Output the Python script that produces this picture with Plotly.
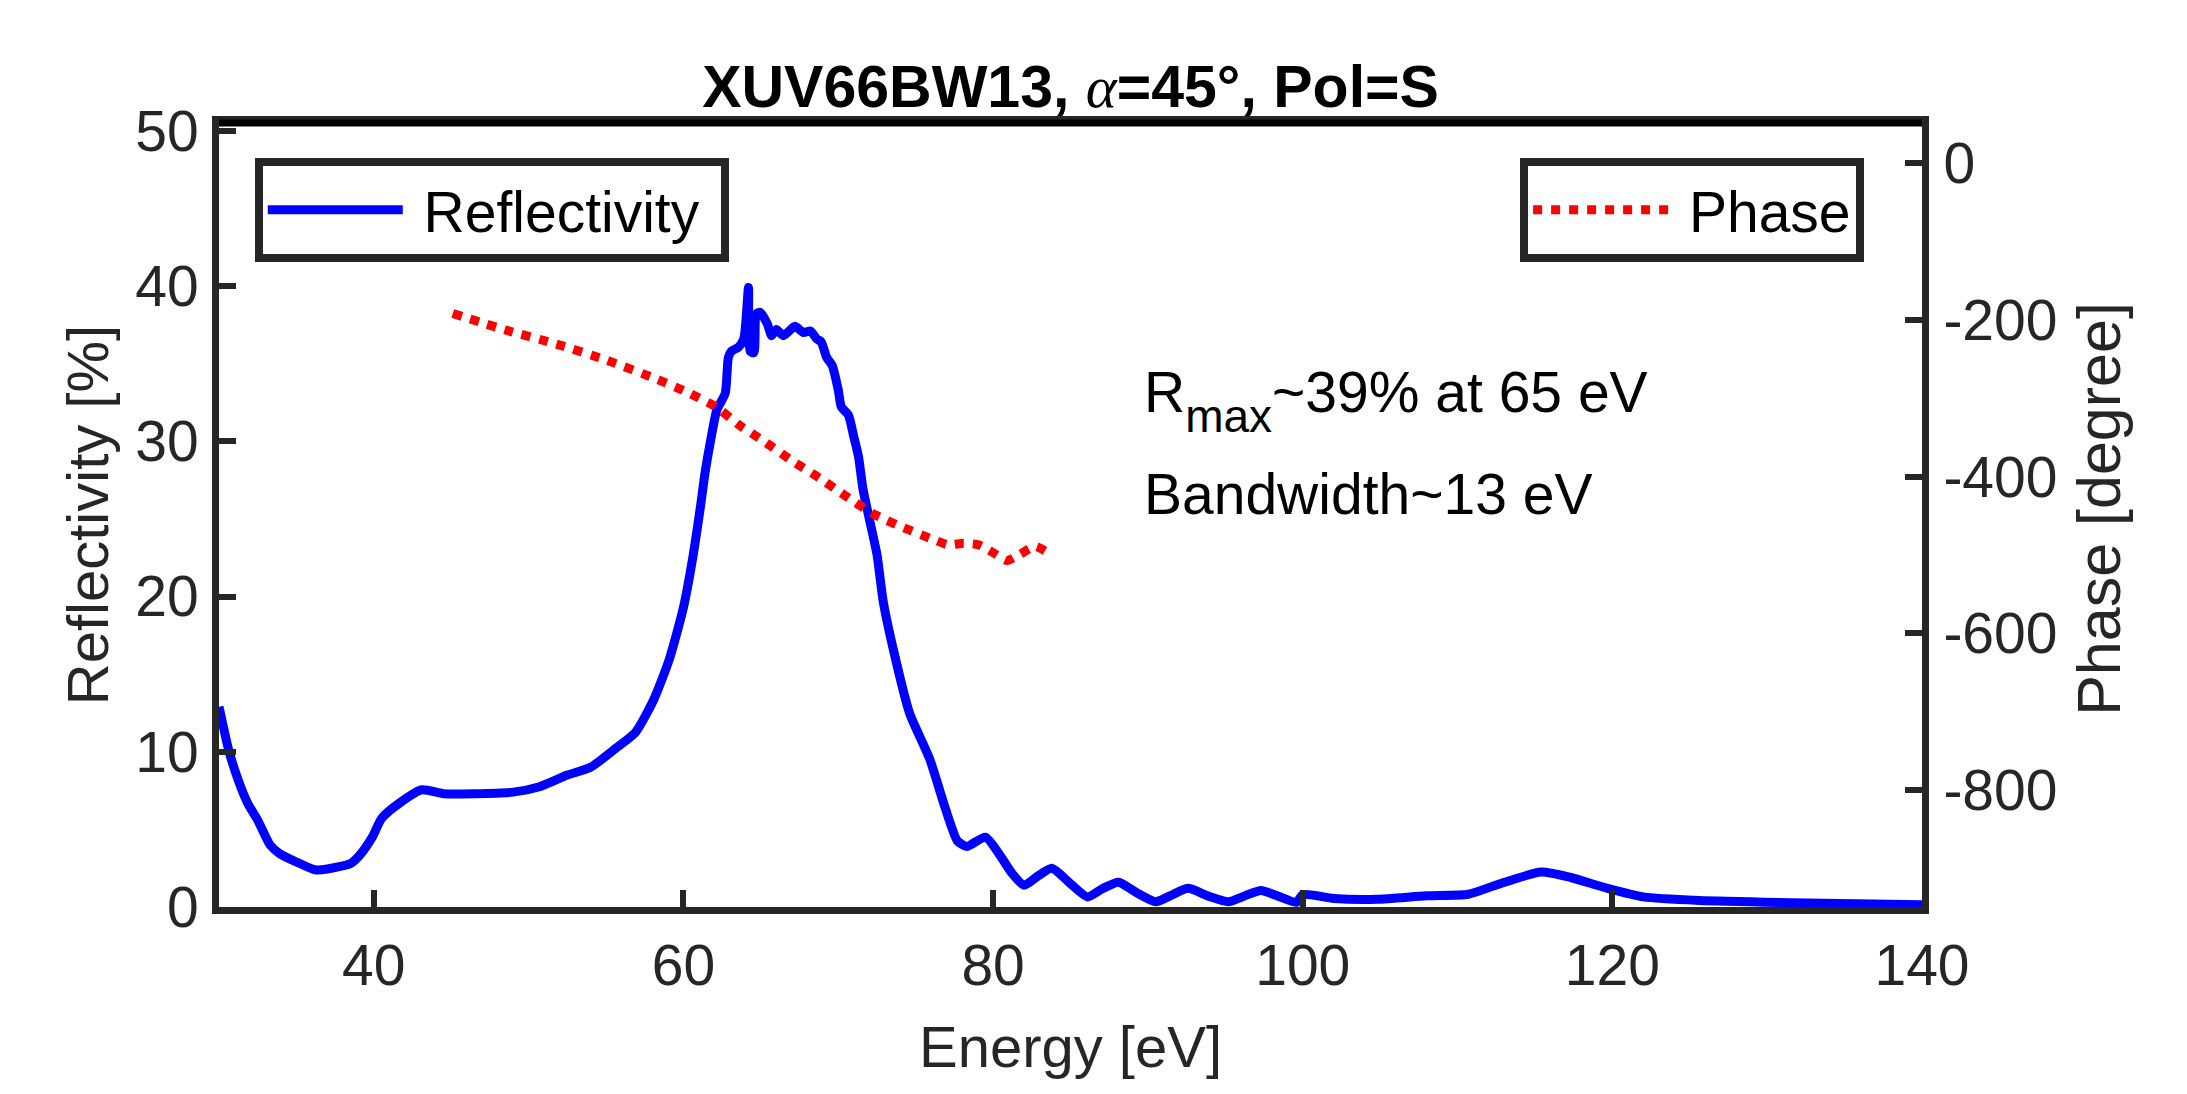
import plotly.graph_objects as go

# ---------------- data ----------------
energy_refl = [30.0, 30.63, 31.25, 31.87, 32.5, 33.3, 33.9, 35.0, 36.2, 37.0, 38.5, 39.1, 39.9, 40.5,
               41.6, 43.1, 44.5, 46.5, 49.0, 50.7, 52.5, 54.0, 55.6, 56.9, 58.1, 59.1, 60.0, 60.6,
               61.1, 61.4, 61.8, 62.15, 62.7, 62.9, 63.1, 63.55, 63.9, 64.2, 64.3, 64.55, 64.7, 64.95,
               65.4, 65.7, 66.0, 66.45, 67.2, 67.75, 68.2, 68.6, 68.9, 69.25, 69.6, 70.0, 70.2, 70.65,
               71.0, 71.3, 71.6, 72.05, 72.5, 72.9, 73.6, 74.6, 75.9, 76.9, 77.7, 78.3, 79.5, 80.4,
               81.2, 82.0, 82.9, 83.8, 85.0, 86.1, 87.1, 88.1, 89.3, 90.5, 91.6, 92.6, 93.9, 95.2,
               96.2, 97.3, 98.4, 99.6, 100.0, 102.0, 104.8, 108.0, 110.7, 112.6, 115.4, 117.3, 119.7,
               122.0, 125.6, 131.5, 140.0]
reflectivity = [12.9, 10.1, 8.15, 6.65, 5.6, 4.0, 3.45, 2.9, 2.4, 2.45, 2.8, 3.35, 4.5, 5.7,
                6.65, 7.55, 7.3, 7.3, 7.4, 7.75, 8.5, 9.0, 10.2, 11.25, 13.4, 16.0, 19.3, 22.5,
                25.8, 28.0, 30.3, 32.0, 33.1, 35.4, 35.8, 36.05, 36.6, 39.9, 35.8, 35.7, 38.2, 38.3,
                37.6, 36.8, 37.2, 36.8, 37.4, 37.0, 37.1, 36.6, 36.4, 35.4, 34.9, 33.3, 32.2, 31.7,
                30.3, 29.05, 26.9, 24.8, 22.7, 19.7, 16.4, 12.5, 9.55, 6.4, 4.25, 3.9, 4.5, 3.4,
                2.2, 1.4, 2.0, 2.5, 1.5, 0.65, 1.2, 1.6, 0.9, 0.34, 0.8, 1.2, 0.7, 0.34,
                0.7, 1.07, 0.7, 0.3, 0.8, 0.55, 0.5, 0.72, 0.82, 1.45, 2.25, 1.9, 1.2,
                0.65, 0.42, 0.28, 0.15]

energy_phase = [45.1, 48.5, 51.8, 55.1, 58.3, 60.2, 62.1, 63.65, 65.2, 67.1, 68.8, 70.5, 72.3,
                74.2, 76.1, 77.1, 78.1, 79.05, 80.0, 80.9, 81.75, 82.7, 83.7]
phase = [-192, -213, -231, -252, -276, -292, -311, -335, -355, -381, -402, -425, -448,
         -465, -480, -487, -485, -487, -497, -507, -499, -489, -499]

x_ticks = [40, 60, 80, 100, 120, 140]
y_left_ticks = [0, 10, 20, 30, 40, 50]
y_right_ticks = [-800, -600, -400, -200, 0]
y_right_labels = ["-800", "-600", "-400", "-200", "0"]

# ---------------- styling ----------------
FONT = "Liberation Sans, Arial, Helvetica, sans-serif"
AX = "#262626"
FS = 57
FT = 58
NB = "\u00a0"

fig = go.Figure()
fig.add_trace(go.Scatter(
    x=energy_refl, y=reflectivity, mode="lines", name=NB + "Reflectivity" + NB,
    line=dict(color="#0000FF", width=9, shape="spline", smoothing=0.6),
    legend="legend", yaxis="y"))
fig.add_trace(go.Scatter(
    x=energy_phase, y=phase, mode="lines", name=NB + "Phase",
    line=dict(color="#FF0000", width=9, dash="dot", shape="spline", smoothing=0.6),
    legend="legend2", yaxis="y2"))

axis_common = dict(showgrid=False, zeroline=False, showline=True, linecolor=AX, linewidth=7,
                   ticks="inside", ticklen=17, tickwidth=6, tickcolor=AX,
                   tickfont=dict(family=FONT, size=FS, color=AX), automargin=False)

fig.update_layout(
    width=2187, height=1094,
    margin=dict(l=219, r=265, t=123, b=187),
    paper_bgcolor="white", plot_bgcolor="white",
    font=dict(family=FONT, size=FS, color=AX),
    title=dict(
        text="<b>XUV66BW13, <span style='font-family:Liberation Serif, serif; font-style:italic; font-weight:normal'>α</span>=45°, Pol=S</b>",
        x=0.5, xref="paper", xanchor="center", y=1 - 86 / 1094, yanchor="middle",
        font=dict(family=FONT, size=59, color="black")),
    xaxis=dict(range=[30, 140], tickvals=x_ticks, ticklabelstandoff=3, mirror=True,
               title=dict(text="Energy [eV]", standoff=32, font=dict(family=FONT, size=FT, color=AX)),
               **axis_common),
    yaxis=dict(range=[0, 50.5], tickvals=y_left_ticks, ticklabelstandoff=2, side="left",
               title=dict(text="Reflectivity [%]", standoff=10, font=dict(family=FONT, size=FT, color=AX)),
               **axis_common),
    yaxis2=dict(range=[-949, 51], tickvals=y_right_ticks, ticktext=y_right_labels,
                ticklabelstandoff=3, side="right", overlaying="y", anchor="x",
                **axis_common),
    legend=dict(x=0.021, y=0.955, xanchor="left", yanchor="top", bgcolor="white",
                bordercolor=AX, borderwidth=8, itemwidth=135,
                font=dict(family=FONT, size=FS, color="black")),
    legend2=dict(x=0.966, y=0.955, xanchor="right", yanchor="top", bgcolor="white",
                 bordercolor=AX, borderwidth=8, itemwidth=135,
                 font=dict(family=FONT, size=FS, color="black")),
    showlegend=True,
)

# black top border of the box
fig.add_shape(type="line", xref="paper", yref="paper", x0=0, x1=1, y0=1, y1=1,
              line=dict(color="black", width=7), layer="above")

# right axis title
fig.add_annotation(text="Phase [degree]", xref="paper", yref="paper", x=1.104, y=0.508,
                   xanchor="center", yanchor="middle", textangle=-90, showarrow=False,
                   font=dict(family=FONT, size=61, color=AX))

fig.add_annotation(text="R<sub><sub><span style='font-size:46px'>max</span></sub></sub>~39% at 65 eV",
                   xref="paper", yref="paper",
                   x=0.542, y=0.645, xanchor="left", yanchor="middle", showarrow=False,
                   font=dict(family=FONT, size=FS, color="black"))
fig.add_annotation(text="Bandwidth~13 eV", xref="paper", yref="paper",
                   x=0.542, y=0.527, xanchor="left", yanchor="middle", showarrow=False,
                   font=dict(family=FONT, size=FS, color="black"))

fig.write_html("out.html")
